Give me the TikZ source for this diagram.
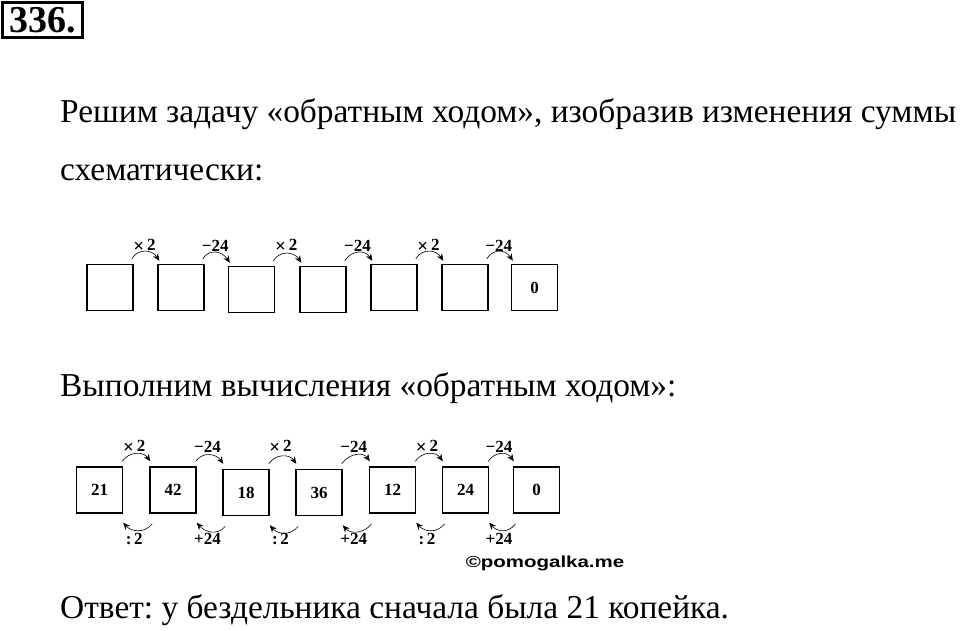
\documentclass[tikz,border=0pt]{standalone}
\usepackage{fontspec}
\usetikzlibrary{arrows.meta,calc}
\newfontfamily\tnr{Liberation Serif}
\newfontfamily\asans{Liberation Sans}
\frenchspacing
\newcommand{\mulsign}{\raisebox{-1.5pt}{\fontsize{19}{19}\selectfont ×}\,}
\begin{document}
\begin{tikzpicture}[x=1pt,y=-1pt,
  cell/.style={draw,line width=1.5pt,minimum width=46pt,minimum height=46pt,inner sep=0pt,font=\fontsize{17}{17}\selectfont\tnr\bfseries},
  oparrow/.style={line width=0.6pt,-{Stealth[length=7pt,width=6pt]}},
  oplabel/.style={font=\fontsize{17}{17}\selectfont\tnr\bfseries,inner sep=0pt},
  bodytext/.style={anchor=base west,inner sep=0pt,font=\fontsize{33.4}{33.4}\selectfont\tnr}]
\useasboundingbox (0,0) rectangle (960,630);
% title
\node[draw,line width=2.5pt,minimum width=80pt,minimum height=35pt,inner sep=0pt,font=\fontsize{38}{38}\selectfont\tnr\bfseries] (title) at (42.5,20) {336.};
\node[bodytext] (l1) at (60,122) {Решим задачу «обратным ходом», изобразив изменения суммы};
\node[bodytext] (l2) at (60,180) {схематически:};
% top row
\node[cell] (a1) at (110,287.5) {};
\node[cell] (a2) at (181,287.5) {};
\node[cell] (a3) at (251.5,289.5) {};
\node[cell] (a4) at (323,289.5) {};
\node[cell] (a5) at (394,287.5) {};
\node[cell] (a6) at (465,287.5) {};
\node[cell] (a7) at (534.5,287.5) {0};
\foreach \i/\j/\t in {1/2/{\mulsign 2},2/3/{−24},3/4/{\mulsign 2},4/5/{−24},5/6/{\mulsign 2},6/7/{−24}}{
  \draw[oparrow] ($(a\i.north east)+(-2,-5)$) .. controls +(7,-11) and +(-7,-11) .. ($(a\j.north west)+(2,-3)$);
  \path let \p1=($(a\i.north east)!0.5!(a\j.north west)$) in node[oplabel] (ta\i) at (\x1-1pt,246) {\t};
}
\node[bodytext] (l3) at (60,396) {Выполним вычисления «обратным ходом»:};
% bottom row
\node[cell] (b1) at (99.5,490) {21};
\node[cell] (b2) at (173,490) {42};
\node[cell] (b3) at (246,492.5) {18};
\node[cell] (b4) at (319,492.5) {36};
\node[cell] (b5) at (392.5,490) {12};
\node[cell] (b6) at (465.5,490) {24};
\node[cell] (b7) at (536.5,490) {0};
\foreach \i/\j/\t/\u in {1/2/{\mulsign 2}/{:\,2},2/3/{−24}/{+24},3/4/{\mulsign 2}/{:\,2},4/5/{−24}/{+24},5/6/{\mulsign 2}/{:\,2},6/7/{−24}/{+24}}{
  \draw[oparrow] ($(b\i.north east)+(-1,-5)$) .. controls +(7,-10) and +(-7,-10) .. ($(b\j.north west)+(1,-5)$);
  \draw[oparrow] ($(b\j.south west)+(3,10)$) .. controls +(-8,10) and +(8,9) .. ($(b\i.south east)+(0,9)$);
  \path let \p1=($(b\i.north east)!0.5!(b\j.north west)$) in
    node[oplabel] (tb\i) at (\x1-2pt,447) {\t}
    node[oplabel] (ub\i) at (\x1-2pt,539) {\u};
}
\node[inner sep=0pt,font=\fontsize{16}{16}\selectfont\asans\bfseries] (copy) at (545,563) {\scalebox{1.28}[1]{©pomogalka.me}};
\node[bodytext] (l4) at (60,618) {Ответ: у бездельника сначала была 21 копейка.};
\end{tikzpicture}
\end{document}
